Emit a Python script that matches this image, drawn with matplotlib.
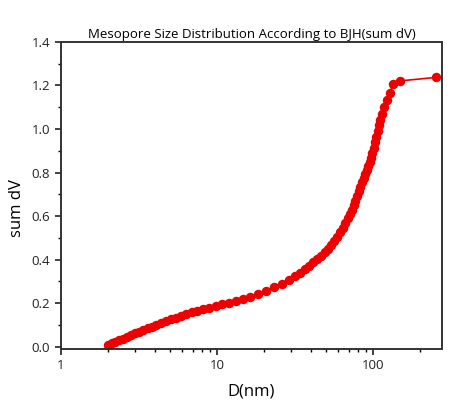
import numpy as np
import matplotlib.pyplot as plt
from matplotlib.ticker import MultipleLocator, LogLocator, FixedLocator, FixedFormatter, NullFormatter

plt.rcParams['font.family'] = ['Open Sans', 'DejaVu Sans']

# pore diameter (nm) and cumulative pore volume
D = [2.01, 2.12, 2.24, 2.37, 2.51, 2.66, 2.82, 2.99, 3.18, 3.38, 3.60, 3.84,
     4.10, 4.39, 4.71, 5.06, 5.45, 5.88, 6.36, 6.90, 7.50, 8.18, 8.95, 9.82,
     10.8, 11.9, 13.2, 14.7, 16.4, 18.4, 20.7, 23.3, 26.2, 29.0, 31.5, 34.0,
     36.5, 39.0, 41.5, 44.0, 46.5, 49.0, 51.5, 54.0, 56.5, 59.0, 61.5, 64.0,
     66.5, 69.0, 71.0, 73.0, 75.0, 77.0, 79.0, 81.0, 83.0, 85.0, 87.0, 89.0,
     91.0, 93.0, 95.0, 97.0, 99.0, 101, 103, 105, 107, 109, 111, 114, 117,
     122, 128, 134, 149, 252]
sumdV = [0.008, 0.015, 0.022, 0.030, 0.037, 0.046, 0.053, 0.061, 0.068, 0.077,
         0.085, 0.092, 0.101, 0.110, 0.118, 0.126, 0.133, 0.141, 0.149, 0.158,
         0.165, 0.172, 0.180, 0.189, 0.195, 0.201, 0.210, 0.219, 0.230, 0.243,
         0.257, 0.272, 0.290, 0.307, 0.324, 0.340, 0.355, 0.371, 0.387, 0.402,
         0.417, 0.433, 0.450, 0.468, 0.487, 0.506, 0.526, 0.547, 0.569, 0.592,
         0.611, 0.630, 0.650, 0.670, 0.691, 0.713, 0.735, 0.756, 0.776, 0.795,
         0.812, 0.830, 0.849, 0.868, 0.890, 0.915, 0.940, 0.965, 0.992, 1.017,
         1.042, 1.070, 1.100, 1.135, 1.165, 1.205, 1.221, 1.237]

fig = plt.figure(figsize=(4.64, 4.07), dpi=100)
ax = fig.add_axes([0.131, 0.1425, 0.822, 0.7545])

ax.plot(D, sumdV, '-o', color='#ee0000', ms=5.8, lw=1.2, mec='#ee0000')

ax.set_xscale('log')
ax.set_xlim(1, 277)
ax.set_ylim(-0.0106, 1.4)

ax.xaxis.set_major_locator(FixedLocator([1, 10, 100]))
ax.xaxis.set_major_formatter(FixedFormatter(['1', '10', '100']))
ax.xaxis.set_minor_locator(LogLocator(base=10, subs=np.arange(2, 10)))
ax.xaxis.set_minor_formatter(NullFormatter())
ax.yaxis.set_major_locator(MultipleLocator(0.2))
ax.yaxis.set_minor_locator(MultipleLocator(0.1))
ax.yaxis.set_major_formatter(plt.FuncFormatter(lambda v, p: '%.1f' % v))

ax.tick_params(which='major', direction='out', length=4, width=1.2, labelsize=9.5, colors='#222222')
ax.tick_params(which='minor', direction='out', length=2.5, width=1)
for s in ax.spines.values():
    s.set_linewidth(1.4)
    s.set_color('#333333')

ax.set_xlabel('D(nm)', fontsize=12, labelpad=8)
ax.set_ylabel('sum dV', fontsize=12)
ax.yaxis.set_label_coords(-0.095, 0.46)
ax.set_title('Mesopore Size Distribution According to BJH(sum dV)', fontsize=9.5, pad=3)

fig.savefig('out.png', dpi=100)
